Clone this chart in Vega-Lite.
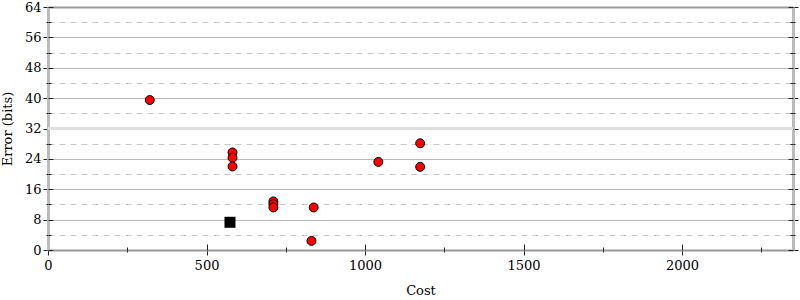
{
  "$schema": "https://vega.github.io/schema/vega-lite/v6.json",
  "autosize": {"type": "none"},
  "padding": {"left": 48, "top": 7, "right": 7, "bottom": 50},
  "width": 745,
  "height": 243,
  "background": "white",
  "config": {
    "view": {"stroke": null},
    "font": "DejaVu Serif",
    "axis": {
      "labelFont": "DejaVu Serif",
      "titleFont": "DejaVu Serif",
      "labelFontSize": 13,
      "titleFontSize": 13,
      "titleFontWeight": "normal",
      "labelColor": "#000",
      "titleColor": "#000",
      "tickColor": "#222",
      "tickWidth": 1,
      "labelFlush": false,
      "grid": false,
      "domain": false
    }
  },
  "datasets": {
    "pts": [
      {"cost": 321, "error": 39.5, "kind": "other"},
      {"cost": 582, "error": 25.7, "kind": "other"},
      {"cost": 582, "error": 24.3, "kind": "other"},
      {"cost": 582, "error": 22.0, "kind": "other"},
      {"cost": 711, "error": 12.8, "kind": "other"},
      {"cost": 711, "error": 12.1, "kind": "other"},
      {"cost": 711, "error": 11.2, "kind": "other"},
      {"cost": 838, "error": 11.2, "kind": "other"},
      {"cost": 831, "error": 2.4, "kind": "other"},
      {"cost": 1042, "error": 23.2, "kind": "other"},
      {"cost": 1174, "error": 28.1, "kind": "other"},
      {"cost": 1174, "error": 21.9, "kind": "other"}
    ],
    "best": [
      {"cost": 574, "error": 7.3, "kind": "best"}
    ]
  },
  "resolve": {
    "scale": {"x": "shared", "y": "shared"},
    "axis": {"x": "independent", "y": "independent"}
  },
  "layer": [
    {
      "data": {"name": "pts"},
      "mark": {"type": "point", "opacity": 0},
      "encoding": {
        "x": {"field": "cost", "type": "quantitative",
          "scale": {"domain": [0, 2350], "nice": false, "zero": true},
          "axis": {"orient": "bottom", "values": [0, 500, 1000, 1500, 2000], "format": "d", "title": "Cost",
            "labelFontSize": 13, "titleFontSize": 13, "labelFlush": false,
            "tickSize": 5, "labelPadding": 4, "titlePadding": 12, "domain": true, "domainColor": "#999", "domainWidth": 2}},
        "y": {"field": "error", "type": "quantitative",
          "scale": {"domain": [0, 64], "nice": false},
          "axis": {"orient": "left", "values": [0, 8, 16, 24, 32, 40, 48, 56, 64], "format": "d", "title": "Error (bits)",
            "labelFontSize": 13, "titleFontSize": 13, "labelFlush": false,
            "tickSize": 5, "labelPadding": 2, "titlePadding": 10,
            "grid": true, "gridColor": "#bbb", "gridWidth": 1,
            "domain": true, "domainColor": "#bbb", "domainWidth": 3}}
      }
    },
    {
      "data": {"name": "pts"},
      "mark": {"type": "point", "opacity": 0},
      "encoding": {
        "x": {"field": "cost", "type": "quantitative",
          "axis": {"orient": "bottom", "values": [0, 500, 1000, 1500, 2000], "title": null, "labels": false, "tickSize": -6}},
        "y": {"field": "error", "type": "quantitative",
          "axis": {"orient": "left", "values": [0, 8, 16, 24, 32, 40, 48, 56, 64], "title": null, "labels": false, "tickSize": -5}}
      }
    },
    {
      "data": {"name": "pts"},
      "mark": {"type": "point", "opacity": 0},
      "encoding": {
        "x": {"field": "cost", "type": "quantitative",
          "axis": {"orient": "bottom", "values": [250, 750, 1250, 1750, 2250], "title": null, "labels": false, "tickSize": 2}},
        "y": {"field": "error", "type": "quantitative",
          "axis": {"orient": "left", "values": [4, 12, 20, 28, 36, 44, 52, 60], "title": null, "labels": false, "tickSize": 2,
            "grid": true, "gridColor": "#c8c8c8", "gridDash": [6, 5], "gridWidth": 1}}
      }
    },
    {
      "data": {"name": "pts"},
      "mark": {"type": "point", "opacity": 0},
      "encoding": {
        "x": {"field": "cost", "type": "quantitative",
          "axis": {"orient": "bottom", "values": [250, 750, 1250, 1750, 2250], "title": null, "labels": false, "tickSize": -3}},
        "y": {"field": "error", "type": "quantitative",
          "axis": {"orient": "left", "values": [4, 12, 20, 28, 36, 44, 52, 60], "title": null, "labels": false, "tickSize": -3}}
      }
    },
    {
      "data": {"name": "pts"},
      "mark": {"type": "point", "opacity": 0},
      "encoding": {
        "x": {"field": "cost", "type": "quantitative",
          "axis": {"orient": "top", "title": null, "labels": false, "ticks": false, "domain": true, "domainColor": "#999", "domainWidth": 2}},
        "y": {"field": "error", "type": "quantitative",
          "axis": {"orient": "right", "values": [0, 8, 16, 24, 32, 40, 48, 56, 64], "title": null, "labels": false, "tickSize": 5,
            "domain": true, "domainColor": "#bbb", "domainWidth": 3}}
      }
    },
    {
      "data": {"name": "pts"},
      "mark": {"type": "point", "opacity": 0},
      "encoding": {
        "x": {"field": "cost", "type": "quantitative", "axis": null},
        "y": {"field": "error", "type": "quantitative",
          "axis": {"orient": "right", "values": [0, 8, 16, 24, 32, 40, 48, 56, 64], "title": null, "labels": false, "tickSize": -5}}
      }
    },
    {
      "data": {"name": "pts"},
      "mark": {"type": "point", "opacity": 0},
      "encoding": {
        "x": {"field": "cost", "type": "quantitative", "axis": null},
        "y": {"field": "error", "type": "quantitative",
          "axis": {"orient": "right", "values": [4, 12, 20, 28, 36, 44, 52, 60], "title": null, "labels": false, "tickSize": 2}}
      }
    },
    {
      "data": {"name": "pts"},
      "mark": {"type": "point", "opacity": 0},
      "encoding": {
        "x": {"field": "cost", "type": "quantitative", "axis": null},
        "y": {"field": "error", "type": "quantitative",
          "axis": {"orient": "right", "values": [4, 12, 20, 28, 36, 44, 52, 60], "title": null, "labels": false, "tickSize": -3}}
      }
    },
    {
      "data": {"name": "pts"},
      "mark": {"type": "rule", "color": "#e0e0e0", "strokeWidth": 2},
      "encoding": {
        "y": {"datum": 32, "type": "quantitative", "axis": null}
      }
    },
    {
      "data": {"name": "pts"},
      "mark": {"type": "circle", "color": "#ff0000", "opacity": 1, "stroke": "#000", "strokeWidth": 1, "size": 80},
      "encoding": {
        "x": {"field": "cost", "type": "quantitative", "axis": null},
        "y": {"field": "error", "type": "quantitative", "axis": null}
      }
    },
    {
      "data": {"name": "best"},
      "mark": {"type": "square", "color": "#000", "opacity": 1, "size": 121},
      "encoding": {
        "x": {"field": "cost", "type": "quantitative", "axis": null},
        "y": {"field": "error", "type": "quantitative", "axis": null}
      }
    }
  ]
}
